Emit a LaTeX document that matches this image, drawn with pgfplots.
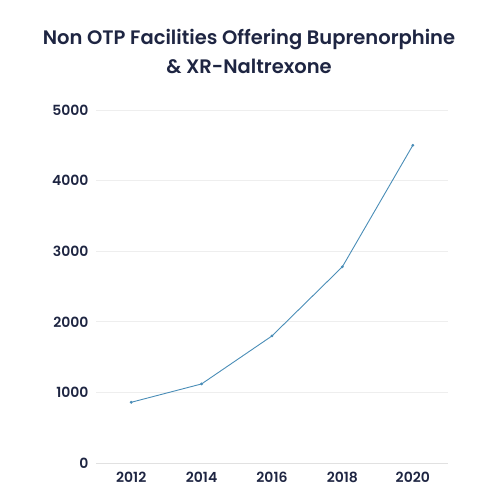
\documentclass[border=0pt]{standalone}
\usepackage{fontspec}
\setmainfont{Poppins}
\newfontfamily\semib{Poppins}[UprightFont={* SemiBold}]
\usepackage{pgfplots}
\pgfplotsset{compat=1.18}
\definecolor{navy}{HTML}{1E2542}
\definecolor{lineblue}{HTML}{4A8DB7}
\definecolor{gridgray}{HTML}{EEEEEE}
\begin{document}
\begin{tikzpicture}[x=1bp,y=1bp]
\useasboundingbox (0,0) rectangle (500,500);
\node[font=\semib\fontsize{19.5bp}{29bp}\selectfont, text=navy, align=center] at (249,449)
  {Non OTP Facilities Offering Buprenorphine\\\& XR-Naltrexone};
\begin{axis}[
  at={(96bp,37bp)}, anchor=south west,
  scale only axis, width=352bp, height=353bp,
  xmin=2011, xmax=2021, ymin=0, ymax=5000,
  xtick={2012,2014,...,2020}, ytick={0,1000,...,5000},
  axis line style={draw=none},
  major tick style={draw=none},
  ymajorgrids, grid style={gridgray, line width=0.8bp},
  tick label style={font=\semib\fontsize{14bp}{16bp}\selectfont, text=navy},
  /pgf/number format/assume math mode=true,
  /pgf/number format/1000 sep={},
  xticklabel style={yshift=-6bp},
  yticklabel style={xshift=-4bp},
  clip=false]
\draw[gridgray!70!gray!60, line width=0.8bp] (axis cs:2011,0) -- (axis cs:2021,0);
\addplot[lineblue, line width=0.9bp, mark=*, mark size=0.9bp, mark options={fill=lineblue}]
  coordinates {(2012,860) (2014,1120) (2016,1800) (2018,2780) (2020,4500)};
\end{axis}
\end{tikzpicture}
\end{document}
